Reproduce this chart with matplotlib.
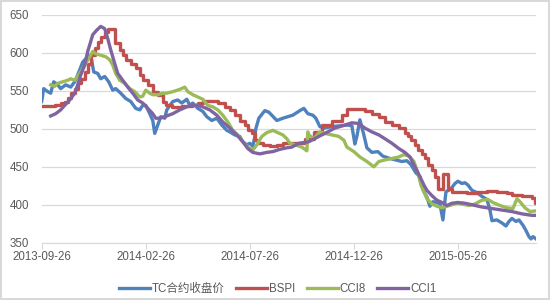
import matplotlib
import matplotlib.pyplot as plt

matplotlib.use('Agg')

plt.rcParams['font.family'] = ['Liberation Sans', 'Noto Sans CJK SC']

# x positions are trading-day indices along the category axis
tick_pos = [0, 104, 208, 312, 416]
tick_labels = ['2013-09-26', '2014-02-26', '2014-07-26', '2014-12-26', '2015-05-26']

tc_day = [0, 2, 6, 9, 12, 16, 19, 24, 29, 33, 36, 41, 46, 48, 50, 52, 56, 59,
          63, 67, 71, 74, 79, 84, 89, 94, 98, 101, 104, 108, 111, 113, 116,
          119, 123, 125, 131, 136, 140, 145, 148, 151, 156, 161, 165, 170,
          175, 180, 185, 188, 193, 198, 201, 205, 208, 211, 213, 214, 217,
          223, 227, 235, 241, 251, 258, 262, 266, 271, 274, 278, 282, 290,
          298, 306, 310, 313, 315, 318, 322, 325, 330, 336, 341, 348, 354,
          360, 365, 369, 374, 378, 381, 385, 388, 391, 395, 398, 401, 404,
          409, 413, 416, 420, 423, 426, 430, 435, 440, 445, 448, 450, 455,
          460, 464, 467, 470, 474, 477, 481, 484, 487, 489, 491, 494]
tc_val = [536, 553, 549, 547, 562, 558, 553, 558, 555, 562, 571, 588, 595,
          597, 590, 575, 573, 566, 569, 562, 551, 553, 547, 540, 536, 527,
          525, 531, 531, 520, 511, 494, 505, 516, 514, 525, 536, 538, 534,
          539, 531, 534, 527, 523, 516, 511, 514, 505, 498, 496, 492, 490,
          483, 479, 481, 477, 490, 500, 514, 524, 522, 511, 514, 518, 524,
          527, 520, 518, 514, 503, 501, 503, 504, 505, 504, 480, 490, 512,
          492, 475, 469, 470, 464, 461, 459, 457, 458, 453, 442, 437, 420,
          410, 398, 404, 403, 401, 380, 417, 421, 428, 431, 428, 429, 426,
          419, 416, 411, 407, 393, 379, 380, 376, 372, 378, 382, 378, 380,
          373, 366, 358, 355, 358, 355]

bspi_day = [0, 13, 19, 23, 26, 29, 33, 36, 39, 43, 46, 49, 53, 56, 59, 63,
            66, 73, 78, 81, 84, 89, 94, 98, 101, 106, 111, 116, 121, 124,
            130, 140, 150, 156, 161, 176, 183, 188, 193, 198, 203, 206, 210,
            213, 216, 221, 228, 235, 241, 263, 272, 280, 290, 300, 305, 323,
            330, 337, 343, 350, 357, 363, 366, 369, 373, 376, 380, 383, 386,
            390, 393, 396, 401, 406, 410, 425, 435, 445, 455, 465, 470, 480,
            490, 493, 494]
bspi_val = [530, 531, 534, 536, 540, 547, 553, 560, 566, 575, 586, 597, 606,
            615, 621, 628, 631, 613, 604, 597, 591, 586, 580, 571, 564, 558,
            549, 545, 536, 531, 529, 530, 532, 534, 537, 534, 529, 525, 518,
            511, 505, 498, 494, 485, 481, 479, 477, 479, 481, 487, 496, 505,
            511, 518, 526, 523, 520, 516, 509, 505, 501, 494, 490, 485, 479,
            472, 467, 461, 452, 446, 437, 421, 440, 421, 417, 416, 417, 418,
            417, 416, 413, 411, 409, 402, 402]

cci8_day = [9, 13, 16, 21, 26, 29, 33, 38, 43, 48, 51, 54, 59, 64, 68, 71,
            74, 78, 83, 88, 93, 98, 101, 104, 108, 111, 116, 121, 125, 131,
            138, 143, 146, 151, 156, 161, 166, 171, 176, 181, 186, 191, 196,
            201, 206, 211, 215, 220, 225, 231, 236, 241, 245, 248, 253, 260,
            265, 266, 267, 272, 278, 283, 290, 297, 302, 305, 312, 318, 325,
            332, 337, 343, 350, 357, 362, 365, 368, 372, 376, 379, 382, 385,
            390, 395, 400, 405, 410, 415, 420, 427, 433, 440, 446, 451, 458,
            465, 471, 475, 478, 483, 488, 494]
cci8_val = [558, 556, 560, 562, 564, 566, 564, 573, 584, 595, 602, 599, 597,
            595, 591, 584, 573, 564, 560, 553, 549, 542, 543, 551, 547, 545,
            545, 547, 547, 549, 552, 555, 549, 545, 542, 539, 531, 529, 525,
            518, 509, 498, 492, 483, 476, 472, 479, 490, 495, 498, 495, 492,
            487, 481, 479, 476, 471, 496, 492, 487, 496, 494, 492, 490, 485,
            476, 470, 463, 457, 450, 457, 459, 461, 463, 466, 465, 463, 457,
            442, 426, 417, 408, 401, 398, 396, 398, 400, 402, 401, 399, 401,
            406, 407, 403, 399, 396, 395, 408, 404, 396, 391, 392]

cci1_day = [9, 14, 19, 23, 28, 33, 36, 39, 43, 46, 49, 51, 55, 59, 63, 66,
            69, 73, 76, 81, 86, 91, 96, 101, 106, 111, 114, 118, 123, 131,
            138, 145, 151, 156, 161, 168, 175, 181, 188, 195, 201, 206, 211,
            218, 225, 231, 238, 245, 250, 257, 267, 277, 283, 293, 303, 310,
            317, 323, 330, 337, 343, 350, 357, 363, 368, 373, 378, 382, 385,
            390, 395, 400, 405, 410, 416, 423, 430, 440, 450, 460, 470, 480,
            490, 494]
cci1_val = [517, 520, 525, 531, 538, 547, 558, 571, 584, 602, 615, 624, 630,
            635, 632, 619, 604, 586, 573, 564, 555, 547, 538, 534, 527, 520,
            514, 514, 516, 520, 525, 529, 531, 531, 529, 525, 518, 509, 501,
            492, 483, 474, 469, 467, 469, 470, 473, 475, 476, 481, 483, 490,
            494, 501, 505, 508, 507, 501, 496, 492, 487, 481, 474, 469, 463,
            450, 437, 426, 419, 412, 406, 403, 399, 402, 403, 402, 400, 397,
            395, 393, 391, 388, 386, 386]

fig = plt.figure(figsize=(5.5, 3), dpi=100)
fig.patch.set_edgecolor('#D9D9D9')
fig.patch.set_linewidth(1.5)
ax = fig.add_axes([0.0758, 0.191, 0.8987, 0.759])

lw = 2.4
ax.plot(tc_day, tc_val, color='#4F81BD', lw=lw, label='TC合约收盘价')
ax.plot(bspi_day, bspi_val, color='#C0504D', lw=lw, drawstyle='steps-post',
        label='BSPI')
ax.plot(cci8_day, cci8_val, color='#9BBB59', lw=lw, label='CCI8')
ax.plot(cci1_day, cci1_val, color='#8064A2', lw=lw, label='CCI1')

ax.set_xlim(0, 494)
ax.set_ylim(350, 650)
ax.set_yticks(range(350, 651, 50))
ax.set_xticks(tick_pos)
ax.set_xticklabels(tick_labels)
ax.grid(axis='y', color='#D9D9D9', lw=0.9)
ax.set_axisbelow(True)
for s in ['left', 'right', 'top']:
    ax.spines[s].set_visible(False)
ax.spines['bottom'].set_color('#D9D9D9')
ax.tick_params(axis='y', length=0, pad=9, labelsize=8.3, labelcolor='#595959')
ax.tick_params(axis='x', length=4, color='#D9D9D9', pad=2, labelsize=8.3,
               labelcolor='#595959')

ax.legend(loc='upper center', bbox_to_anchor=(0.477, -0.13), ncol=4,
          frameon=False, fontsize=8.3, handlelength=2.7, handletextpad=0.15,
          columnspacing=1.0, labelcolor='#595959')

fig.savefig('out.png', dpi=100)
